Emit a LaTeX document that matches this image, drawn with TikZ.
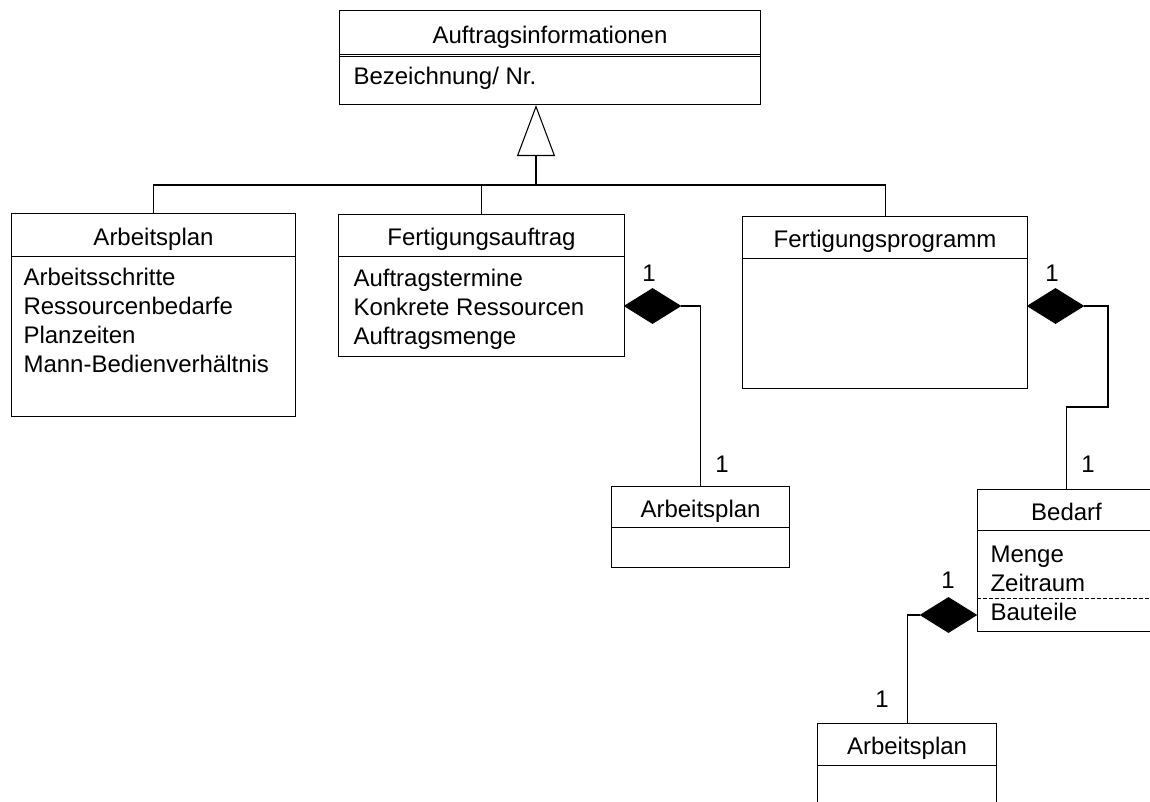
\documentclass[tikz,border=0pt]{standalone}
\usepackage{fontspec}
\setmainfont{Liberation Sans}
\usetikzlibrary{shapes.geometric,arrows.meta}
\begin{document}
\begin{tikzpicture}[x=0.75pt,y=-0.75pt,
  line width=0.8pt,
  font=\fontsize{18}{21.6}\selectfont,
  head/.style={draw, anchor=north west, inner sep=0pt, text height=15pt, text depth=0pt},
  body/.style={draw, anchor=north west, inner sep=0pt},
  attr/.style={anchor=base west, inner sep=0pt},
  mult/.style={anchor=base, inner sep=0pt},
  comp/.style={diamond, draw, fill=black, inner sep=0pt, minimum width=42pt, minimum height=26.25pt},
  gen/.style={-{Triangle[open, length=38.25pt, width=28.5pt]}}]
\useasboundingbox (0,0) rectangle (1150,802);
\fill[white] (0,0) rectangle (1150,802);
\clip (0,0) rectangle (1150,802);

% superclass, its header closed by a double rule
\node[head, minimum width=421*0.75pt, minimum height=46*0.75pt] (toph) at (339,10) {Auftragsinformationen};
\node[body, minimum width=421*0.75pt, minimum height=48*0.75pt] (topb) at (339,56) {};
\draw ([yshift=2.25pt]toph.south west) -- ([yshift=2.25pt]toph.south east);
\node[attr] (topa) at (353,85) {Bezeichnung/ Nr.};

% Arbeitsplan (left)
\node[head, minimum width=284*0.75pt, minimum height=43*0.75pt] (aph) at (11,213) {Arbeitsplan};
\node[body, minimum width=284*0.75pt, minimum height=160*0.75pt] (apb) at (11,256) {};
\node[attr] (apa1) at (23,286) {Arbeitsschritte};
\node[attr] (apa2) at (23,315) {Ressourcenbedarfe};
\node[attr] (apa3) at (23,344) {Planzeiten};
\node[attr] (apa4) at (23,373) {Mann-Bedienverhältnis};

% Fertigungsauftrag
\node[head, minimum width=286*0.75pt, minimum height=42*0.75pt] (fah) at (338,214) {Fertigungsauftrag};
\node[body, minimum width=286*0.75pt, minimum height=100*0.75pt] (fab) at (338,256) {};
\node[attr] (faa1) at (353,287) {Auftragstermine};
\node[attr] (faa2) at (353,316) {Konkrete Ressourcen};
\node[attr] (faa3) at (353,345) {Auftragsmenge};

% Fertigungsprogramm
\node[head, minimum width=285*0.75pt, minimum height=42*0.75pt] (fph) at (742,216) {Fertigungsprogramm};
\node[body, minimum width=285*0.75pt, minimum height=130*0.75pt] (fpb) at (742,258) {};

% Arbeitsplan (middle)
\node[head, minimum width=178*0.75pt, minimum height=41*0.75pt] (ap2h) at (611,486) {Arbeitsplan};
\node[body, minimum width=178*0.75pt, minimum height=40*0.75pt] (ap2b) at (611,527) {};

% Bedarf
\node[head, minimum width=178*0.75pt, minimum height=41*0.75pt] (bedh) at (977,489) {Bedarf};
\node[body, minimum width=178*0.75pt, minimum height=101*0.75pt] (bedb) at (977,530) {};
\node[attr] (beda1) at (990,562) {Menge};
\node[attr] (beda2) at (990,591) {Zeitraum};
\node[attr] (beda3) at (990,620) {Bauteile};
\draw[dash pattern=on 3pt off 1.5pt, line width=0.6pt]
  ([yshift=-51pt]bedb.north west) -- ([yshift=-51pt]bedb.north east);

% Arbeitsplan (bottom)
\node[head, minimum width=179*0.75pt, minimum height=42*0.75pt] (ap3h) at (817,723) {Arbeitsplan};
\node[body, minimum width=179*0.75pt, minimum height=60*0.75pt] (ap3b) at (817,765) {};

% generalisation
\coordinate (j) at (536,185);
\draw[gen] (j) -- (j |- topb.south);
\draw (j) -| (aph.north);
\draw (j) -| (fah.north);
\draw (j) -| (fph.north);

% compositions
\node[comp, anchor=west] (d1) at (624,306) {};
\node[comp, anchor=west] (d2) at (1027,306) {};
\node[comp, anchor=east] (d3) at (977,615) {};
\coordinate (k1) at (1108,407);
\draw (d1.east) -| (ap2h.north);
\draw (d2.east) -| (k1) -| (bedh.north);
\draw (d3.west) -| (ap3h.north);

% multiplicities
\node[mult] (m1) at (649,282) {1};
\node[mult] (m2) at (722,472) {1};
\node[mult] (m3) at (1052,282) {1};
\node[mult] (m4) at (1088,472) {1};
\node[mult] (m5) at (948,588) {1};
\node[mult] (m6) at (882,707) {1};
\end{tikzpicture}
\end{document}
